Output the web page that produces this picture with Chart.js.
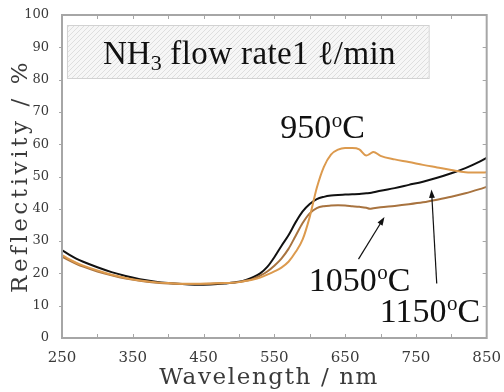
<!DOCTYPE html>
<html>
<head>
<meta charset="utf-8">
<script src="https://cdn.jsdelivr.net/npm/chart.js@4.4.1/dist/chart.umd.min.js"></script>
<style>
  html, body { margin: 0; padding: 0; background: #fff; }
  #wrap { width: 504px; height: 392px; }
</style>
</head>
<body>
<div id="wrap"><canvas id="reflChart" width="504" height="392"></canvas></div>
<script>
// wavelength, nm
const wavelengths = [250, 260, 270, 280, 300, 320, 340, 360, 380, 400, 420, 440, 460, 480, 500, 510, 520, 530, 540, 550, 560, 570, 580, 590, 600, 610, 620, 630, 640, 650, 660, 670, 680, 685, 690, 700, 720, 740, 760, 780, 800, 820, 840, 850];

// reflectivity, %
const refl950 = [25.7, 24.4, 23.3, 22.4, 20.9, 19.6, 18.6, 17.8, 17.3, 17.0, 16.8, 16.8, 16.9, 17.0, 17.3, 17.7, 18.1, 18.7, 19.6, 20.6, 21.8, 23.6, 26.6, 30.5, 37.5, 46.5, 53.0, 56.8, 58.3, 58.8, 58.8, 58.4, 56.5, 57.0, 57.6, 56.4, 55.3, 54.5, 53.6, 52.8, 52.0, 51.3, 51.2, 51.3];
const refl1050 = [25.2, 24.0, 23.0, 22.1, 20.6, 19.4, 18.4, 17.7, 17.2, 16.9, 16.7, 16.7, 16.8, 17.0, 17.3, 17.7, 18.3, 19.3, 20.6, 22.4, 24.6, 27.6, 31.6, 35.6, 38.6, 40.2, 40.8, 41.0, 41.1, 41.0, 40.8, 40.6, 40.3, 40.0, 40.2, 40.5, 40.9, 41.4, 42.0, 42.8, 43.7, 44.8, 46.1, 46.8];
const refl1150 = [27.2, 25.8, 24.6, 23.6, 21.9, 20.4, 19.2, 18.2, 17.5, 17.0, 16.7, 16.5, 16.6, 16.9, 17.4, 18.0, 18.8, 20.0, 22.0, 25.0, 28.5, 31.8, 35.8, 39.2, 41.5, 43.0, 43.7, 44.1, 44.3, 44.4, 44.5, 44.6, 44.8, 44.9, 45.1, 45.6, 46.4, 47.4, 48.4, 49.6, 51.0, 52.6, 54.6, 55.8];

const seriesNames = ['950', '1050', '1150'];
const xTickLabels = [250, 350, 450, 550, 650, 750, 850];
const yTickLabels = [0, 10, 20, 30, 40, 50, 60, 70, 80, 90, 100];

const serif = '"Liberation Serif", "Times New Roman", serif';
const axisFont = '"DejaVu Serif", serif';

function toPoints(ys) {
    return wavelengths.map((w, i) => ({ x: w, y: ys[i] }));
}

// diagonal hatch for the title box
function makeHatch(ctx) {
    const c = document.createElement('canvas');
    c.width = 5; c.height = 5;
    const p = c.getContext('2d');
    p.fillStyle = '#f6f6f6';
    p.fillRect(0, 0, 5, 5);
    p.strokeStyle = '#dedede';
    p.lineWidth = 1;
    p.beginPath();
    p.moveTo(0, 5); p.lineTo(5, 0);
    p.moveTo(-1, 1); p.lineTo(1, -1);
    p.moveTo(4, 6); p.lineTo(6, 4);
    p.stroke();
    return ctx.createPattern(c, 'repeat');
}

// text with a raised "o" for degrees
function drawTemp(ctx, num, x, y, size) {
    ctx.font = size + 'px ' + serif;
    ctx.fillText(num, x, y);
    let w = ctx.measureText(num).width;
    ctx.font = Math.round(size * 0.62) + 'px ' + serif;
    ctx.fillText('o', x + w + 0.5, y - size * 0.34);
    w += ctx.measureText('o').width + 0.5;
    ctx.font = size + 'px ' + serif;
    ctx.fillText('C', x + w, y);
}

function spacedText(ctx, text, cx, cy, target) {
    ctx.letterSpacing = '0px';
    const w = ctx.measureText(text).width;
    const sp = (target - w) / (text.length - 1);
    ctx.letterSpacing = sp.toFixed(2) + 'px';
    ctx.textAlign = 'left';
    ctx.fillText(text, cx - target / 2, cy);
    ctx.letterSpacing = '0px';
}

const decorPlugin = {
    id: 'decor',
    beforeDatasetsDraw(chart) {
        const { ctx, scales: { x, y } } = chart;
        // title box
        const bx0 = x.getPixelForValue(257), bx1 = x.getPixelForValue(768);
        const by0 = y.getPixelForValue(96.9), by1 = y.getPixelForValue(80.5);
        ctx.save();
        ctx.fillStyle = makeHatch(ctx);
        ctx.fillRect(bx0, by0, bx1 - bx0, by1 - by0);
        ctx.strokeStyle = '#d2d2d2';
        ctx.lineWidth = 1;
        ctx.strokeRect(bx0 + 0.5, by0 + 0.5, bx1 - bx0, by1 - by0);

        ctx.fillStyle = '#111';
        ctx.textBaseline = 'alphabetic';
        let tx = x.getPixelForValue(307.9);
        const ty = y.getPixelForValue(84.8);
        ctx.font = '33px ' + serif;
        ctx.fillText('NH', tx, ty);
        tx += ctx.measureText('NH').width;
        ctx.font = '22px ' + serif;
        ctx.fillText('3', tx, ty + 6);
        tx += ctx.measureText('3').width;
        ctx.font = '33px ' + serif;
        ctx.letterSpacing = '0.4px';
        ctx.fillText(' flow rate1 \u2113/min', tx, ty);
        ctx.letterSpacing = '0px';
        ctx.restore();
    },
    afterDatasetsDraw(chart) {
        const { ctx, chartArea: a, scales: { x, y } } = chart;
        ctx.save();
        // frame
        ctx.strokeStyle = '#a6a6a6';
        ctx.lineWidth = 2;
        ctx.strokeRect(a.left, a.top, a.right - a.left, a.bottom - a.top);
        ctx.lineWidth = 1;
        ctx.beginPath();
        for (let v = 300; v < 850; v += 50) {
            const px = Math.round(x.getPixelForValue(v)) + 0.5;
            ctx.moveTo(px, a.bottom); ctx.lineTo(px, a.bottom - 4);
            ctx.moveTo(px, a.top); ctx.lineTo(px, a.top + 4);
        }
        for (let v = 10; v < 100; v += 10) {
            const py = Math.round(y.getPixelForValue(v)) + 0.5;
            ctx.moveTo(a.right, py); ctx.lineTo(a.right - 4, py);
            ctx.moveTo(a.left, py); ctx.lineTo(a.left - 3, py);
        }
        ctx.stroke();

        // temperature labels
        ctx.fillStyle = '#111';
        ctx.textBaseline = 'alphabetic';
        drawTemp(ctx, seriesNames[0], x.getPixelForValue(558.5), y.getPixelForValue(61.9), 34);
        drawTemp(ctx, seriesNames[1], x.getPixelForValue(598.7), y.getPixelForValue(14.6), 34);
        drawTemp(ctx, seriesNames[2], x.getPixelForValue(699), y.getPixelForValue(5.0), 34);

        // arrows
        const arrow = (x0, y0, x1, y1) => {
            const p0 = [x.getPixelForValue(x0), y.getPixelForValue(y0)];
            const p1 = [x.getPixelForValue(x1), y.getPixelForValue(y1)];
            const ang = Math.atan2(p1[1] - p0[1], p1[0] - p0[0]);
            ctx.strokeStyle = '#111';
            ctx.lineWidth = 1.2;
            ctx.beginPath();
            ctx.moveTo(p0[0], p0[1]);
            ctx.lineTo(p1[0] - 6 * Math.cos(ang), p1[1] - 6 * Math.sin(ang));
            ctx.stroke();
            ctx.beginPath();
            ctx.moveTo(p1[0], p1[1]);
            ctx.lineTo(p1[0] - 9 * Math.cos(ang - 0.33), p1[1] - 9 * Math.sin(ang - 0.33));
            ctx.lineTo(p1[0] - 9 * Math.cos(ang + 0.33), p1[1] - 9 * Math.sin(ang + 0.33));
            ctx.closePath();
            ctx.fill();
        };
        arrow(668.9, 24.4, 705.6, 37.5);
        arrow(779.4, 16.9, 772, 46.0);

        // axis titles
        ctx.fillStyle = '#3a3a3a';
        ctx.font = '23px ' + axisFont;
        ctx.textBaseline = 'middle';
        spacedText(ctx, 'Wavelength / nm', (a.left + a.right) / 2 - 6, 378, 218);
        ctx.translate(21, 178);
        ctx.rotate(-Math.PI / 2);
        spacedText(ctx, 'Reflectivity / %', 0, 0, 230);
        ctx.restore();
    }
};

const ctx = document.getElementById('reflChart').getContext('2d');
new Chart(ctx, {
    type: 'line',
    data: {
        datasets: [
            { label: seriesNames[0], data: toPoints(refl950), borderColor: '#dc9a4e', borderWidth: 2 },
            { label: seriesNames[1], data: toPoints(refl1050), borderColor: '#a8733f', borderWidth: 2 },
            { label: seriesNames[2], data: toPoints(refl1150), borderColor: '#111111', borderWidth: 2 }
        ]
    },
    options: {
        responsive: false,
        animation: false,
        layout: { padding: { top: 15, right: 17, left: 0, bottom: 0 } },
        elements: { point: { radius: 0 }, line: { cubicInterpolationMode: 'monotone' } },
        plugins: { legend: { display: false }, tooltip: { enabled: false } },
        scales: {
            x: {
                type: 'linear',
                min: 250,
                max: 850,
                grid: { display: false },
                border: { display: false },
                afterFit: (s) => { s.height = 54; },
                afterBuildTicks: (s) => { s.ticks = xTickLabels.map(v => ({ value: v })); },
                ticks: {
                    color: '#3a3a3a',
                    padding: 3,
                    maxRotation: 0,
                    font: { family: axisFont, size: 15 },
                    callback: (v) => String(v)
                }
            },
            y: {
                min: 0,
                max: 100,
                grid: { display: false },
                border: { display: false },
                afterFit: (s) => { s.width = 62; },
                afterBuildTicks: (s) => { s.ticks = yTickLabels.map(v => ({ value: v })); },
                ticks: {
                    color: '#3a3a3a',
                    padding: 5,
                    font: { family: axisFont, size: 13 },
                    callback: (v) => String(v)
                }
            }
        }
    },
    plugins: [decorPlugin]
});
</script>
</body>
</html>
